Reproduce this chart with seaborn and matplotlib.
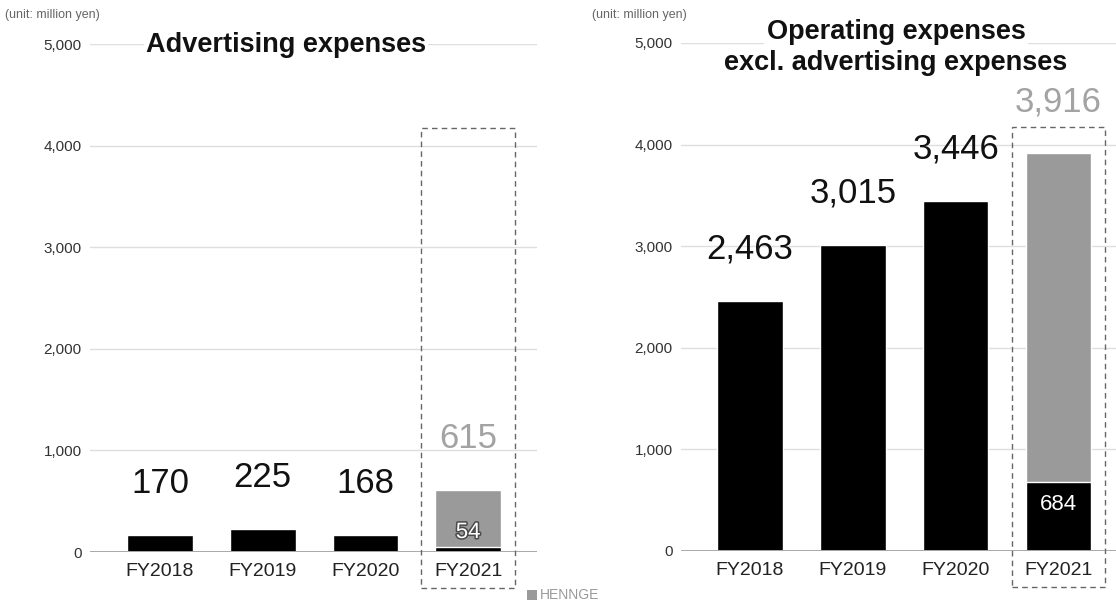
import matplotlib
matplotlib.use("Agg")
import matplotlib.pyplot as plt
import matplotlib.patheffects as pe
from matplotlib.patches import Rectangle
import seaborn as sns
import pandas as pd

# ---- data (million yen) ----
fiscal_years = ["FY2018", "FY2019", "FY2020", "FY2021"]
ad_actual = [170, 225, 168, 54]          # FY2021: results to date
ad_fy2021_plan = 615                      # FY2021 full-year figure
opex_actual = [2463, 3015, 3446, 684]
opex_fy2021_plan = 3916
y_ticks = [0, 1000, 2000, 3000, 4000, 5000]
left_title = "Advertising expenses"
right_title = ["Operating expenses", "excl. advertising expenses"]
unit_label = "(unit: million yen)"

# ---- style ----
sns.set_theme(style="white")
plt.rcParams["font.family"] = ["Liberation Sans", "DejaVu Sans"]

BLACK = "#000000"
GRAY = "#9a9a9a"
LABEL_GRAY = "#a3a3a3"
GRID = "#dedede"
BASE = "#a8a8a8"

W, H = 1116, 603
fig = plt.figure(figsize=(W / 100, H / 100), dpi=100)
fig.patch.set_facecolor("white")


def px_rect(left, right, top, bottom):
    return [left / W, 1 - bottom / H, (right - left) / W, (bottom - top) / H]


ax_l = fig.add_axes(px_rect(90, 537, 44, 552))
ax_r = fig.add_axes(px_rect(681, 1116, 43, 551))

BAR_W = 0.64


def draw_panel(ax, actual, plan, xlim, label_gap):
    df = pd.DataFrame({"year": fiscal_years, "value": actual})
    plan_df = pd.DataFrame({"year": [fiscal_years[-1]], "value": [plan]})
    # full-year FY2021 bar in gray, actual amounts in black on top
    sns.barplot(data=plan_df, x="year", y="value", order=fiscal_years,
                color=GRAY, saturation=1, width=BAR_W, ax=ax, zorder=2)
    sns.barplot(data=df, x="year", y="value", order=fiscal_years,
                color=BLACK, saturation=1, width=BAR_W, ax=ax, zorder=3)

    ax.set_ylim(0, 5000)
    ax.set_xlim(*xlim)
    ax.set_yticks(y_ticks)
    ax.set_yticklabels([f"{v:,}" for v in y_ticks])
    ax.set_xlabel("")
    ax.set_ylabel("")
    ax.yaxis.grid(True, color=GRID, lw=1.0)
    ax.set_axisbelow(True)
    for s in ax.spines.values():
        s.set_visible(False)
    ax.axhline(0, color=BASE, lw=1.4, zorder=4)
    ax.tick_params(axis="y", length=0, pad=6, labelsize=11, labelcolor="#333333")
    ax.tick_params(axis="x", length=0, pad=8, labelsize=14, labelcolor="#222222")

    # value labels above the yearly bars
    for i, v in enumerate(actual[:-1]):
        ax.annotate(f"{v:,}", xy=(i, v), xytext=(0, label_gap),
                    textcoords="offset pixels", ha="center", va="baseline",
                    fontsize=25, color="#111111", zorder=5)
    # FY2021 full-year label
    ax.annotate(f"{plan:,}", xy=(3, plan), xytext=(0, label_gap),
                textcoords="offset pixels", ha="center", va="baseline",
                fontsize=25, color=LABEL_GRAY, zorder=5)

    # dashed frame around FY2021
    box = Rectangle((3 - 0.455, -350), 0.91, 4520, transform=ax.transData,
                    fill=False, edgecolor="#666666", lw=1.0,
                    linestyle=(0, (4, 3)), clip_on=False, zorder=6)
    ax.add_patch(box)


draw_panel(ax_l, ad_actual, ad_fy2021_plan, (-0.68, 3.67), 42)
draw_panel(ax_r, opex_actual, opex_fy2021_plan, (-0.67, 3.56), 42)

# FY2021 actual labels inside the bars
ax_l.annotate(f"{ad_actual[-1]:,}", xy=(3, 0), xytext=(0, 14),
              textcoords="offset pixels", ha="center", va="baseline",
              fontsize=16, color="white", zorder=7,
              path_effects=[pe.withStroke(linewidth=2.2, foreground="#4a4a4a")])
ax_r.annotate(f"{opex_actual[-1]:,}", xy=(3, 0), xytext=(0, 41),
              textcoords="offset pixels", ha="center", va="baseline",
              fontsize=16, color="white", zorder=7)

# titles
title_box = dict(facecolor="white", edgecolor="none", pad=1.5)
fig.text(286 / W, 1 - 52 / H, left_title, ha="center", va="baseline",
         fontsize=19.5, fontweight="bold", color="#111111", bbox=title_box)
fig.text(896 / W, 1 - 39 / H, right_title[0], ha="center", va="baseline",
         fontsize=19.5, fontweight="bold", color="#111111", bbox=title_box)
fig.text(896 / W, 1 - 70 / H, right_title[1], ha="center", va="baseline",
         fontsize=19.5, fontweight="bold", color="#111111")

# unit notes
fig.text(5 / W, 1 - 15 / H, unit_label, ha="left", va="center",
         fontsize=9, color="#666666")
fig.text(592 / W, 1 - 15 / H, unit_label, ha="left", va="center",
         fontsize=9, color="#666666")

# footer logo
fig.patches.append(Rectangle((527 / W, 1 - 600 / H), 10 / W, 10 / H,
                             transform=fig.transFigure, facecolor="#9a9a9a",
                             edgecolor="none"))
fig.text(540 / W, 1 - 595 / H, "HENNGE", ha="left", va="center",
         fontsize=10, color="#9a9a9a")

fig.savefig("out.png", dpi=100, facecolor="white")
